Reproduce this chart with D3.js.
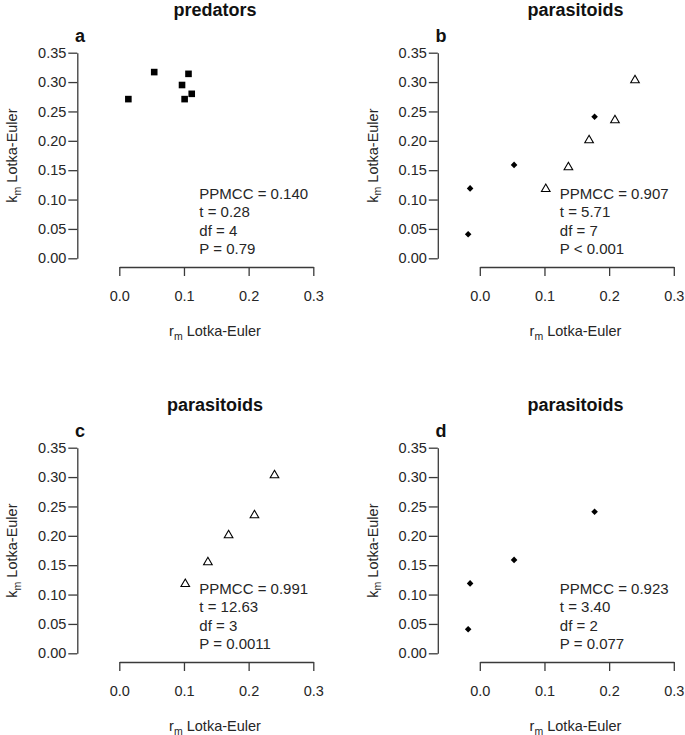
<!DOCTYPE html>
<html><head><meta charset="utf-8">
<script src="https://cdn.jsdelivr.net/npm/d3@7"></script>
<style>body{margin:0;background:#fff}</style>
</head><body><svg id="c" width="685" height="735"></svg>
<script>
// ---- data ----
const predatorR = [0.014, 0.054, 0.107, 0.097, 0.112, 0.101];
const predatorK = [0.271, 0.317, 0.314, 0.295, 0.280, 0.271];
const paraTriR  = [0.102, 0.137, 0.169, 0.209, 0.240];
const paraTriK  = [0.118, 0.155, 0.201, 0.235, 0.303];
const paraDiaR  = [-0.018, -0.015, 0.053, 0.1775];
const paraDiaK  = [0.041, 0.119, 0.159, 0.241];
const xTicks = [0.0, 0.1, 0.2, 0.3];
const yTicks = [0.00, 0.05, 0.10, 0.15, 0.20, 0.25, 0.30, 0.35];
const titles = ["predators", "parasitoids", "parasitoids", "parasitoids"];
const letters = ["a", "b", "c", "d"];
const statsA = ["PPMCC = 0.140", "t = 0.28", "df = 4", "P = 0.79"];
const statsB = ["PPMCC = 0.907", "t = 5.71", "df = 7", "P < 0.001"];
const statsC = ["PPMCC = 0.991", "t = 12.63", "df = 3", "P = 0.0011"];
const statsD = ["PPMCC = 0.923", "t = 3.40", "df = 2", "P = 0.077"];

const square = {r: predatorR, k: predatorK, shape: "square"};
const tri = {r: paraTriR, k: paraTriK, shape: "triangle"};
const dia = {r: paraDiaR, k: paraDiaK, shape: "diamond"};

const panels = [
  {i: 0, dx: 0,     dy: 0,   series: [square],   stats: statsA},
  {i: 1, dx: 360.5, dy: 0,   series: [dia, tri], stats: statsB},
  {i: 2, dx: 0,     dy: 395, series: [tri],      stats: statsC},
  {i: 3, dx: 360.5, dy: 395, series: [dia],      stats: statsD}
];

const FONT = '"Liberation Sans", Arial, Helvetica, sans-serif';
const TXT = "#262626";
const LINE = "#3a3a3a";
const svg = d3.select("#c");
svg.append("rect").attr("width", 685).attr("height", 735).attr("fill", "#fff");

const x = d3.scaleLinear().domain([0, 0.3]).range([119.3, 313.3]);
const y = d3.scaleLinear().domain([0, 0.35]).range([258.3, 52.7]);

const R = 3.2;
const triPath = (cx, cy) => {
  const top = 1.5551 * R, half = 1.3468 * R, bot = 0.7776 * R;
  return `M${cx},${cy - top}L${cx + half},${cy + bot}L${cx - half},${cy + bot}Z`;
};
const diaPath = (cx, cy) => {
  const d = 3.3;
  return `M${cx},${cy - d}L${cx + d},${cy}L${cx},${cy + d}L${cx - d},${cy}Z`;
};

panels.forEach(p => {
  const g = svg.append("g").attr("transform", `translate(${p.dx},${p.dy})`);

  // y axis
  const ya = g.append("g").attr("transform", "translate(77.3,0)")
    .call(d3.axisLeft(y).tickValues(yTicks).tickFormat(d3.format(".2f"))
      .tickSize(9).tickSizeOuter(0).tickPadding(2));
  // x axis
  const xa = g.append("g").attr("transform", "translate(0,267)")
    .call(d3.axisBottom(x).tickValues(xTicks).tickFormat(d3.format(".1f"))
      .tickSize(9).tickSizeOuter(0).tickPadding(15));
  [ya, xa].forEach(a => {
    a.attr("font-family", FONT).attr("font-size", 14.5);
    a.selectAll("path, line").attr("stroke", LINE).attr("stroke-width", 1.3);
    a.selectAll("text").attr("fill", TXT);
  });

  // title
  g.append("text").attr("x", 215).attr("y", 15.5).attr("text-anchor", "middle")
    .attr("font-family", FONT).attr("font-weight", "bold").attr("font-size", 18)
    .attr("fill", "#111").text(titles[p.i]);
  // panel letter
  g.append("text").attr("x", 75).attr("y", 41.5)
    .attr("font-family", FONT).attr("font-weight", "bold").attr("font-size", 18)
    .attr("fill", "#111").text(letters[p.i]);

  // x axis title
  const xt = g.append("text").attr("x", 215).attr("y", 336).attr("text-anchor", "middle")
    .attr("font-family", FONT).attr("font-size", 14.5).attr("fill", TXT);
  xt.append("tspan").text("r");
  xt.append("tspan").attr("font-size", 10.5).attr("dy", 3.5).text("m");
  xt.append("tspan").attr("dy", -3.5).text(" Lotka-Euler");

  // y axis title
  const yt = g.append("text").attr("transform", "translate(17,155.6) rotate(-90)")
    .attr("text-anchor", "middle")
    .attr("font-family", FONT).attr("font-size", 14.5).attr("fill", TXT);
  yt.append("tspan").text("k");
  yt.append("tspan").attr("font-size", 10.5).attr("dy", 3.5).text("m");
  yt.append("tspan").attr("dy", -3.5).text(" Lotka-Euler");

  // stats
  const st = g.append("text").attr("font-family", FONT).attr("font-size", 15).attr("fill", TXT);
  p.stats.forEach((s, j) => {
    st.append("tspan").attr("x", 199.3).attr("y", 199 + j * 18.3).text(s);
  });

  // points
  p.series.forEach(s => {
    const pts = s.r.map((v, j) => [v, s.k[j]]);
    if (s.shape === "square") {
      g.selectAll(null).data(pts).enter().append("rect")
        .attr("x", d => x(d[0]) - 3.3).attr("y", d => y(d[1]) - 3.3)
        .attr("width", 6.6).attr("height", 6.6).attr("fill", "#000");
    } else if (s.shape === "diamond") {
      g.selectAll(null).data(pts).enter().append("path")
        .attr("d", d => diaPath(x(d[0]), y(d[1]))).attr("fill", "#000");
    } else {
      g.selectAll(null).data(pts).enter().append("path")
        .attr("d", d => triPath(x(d[0]), y(d[1])))
        .attr("fill", "none").attr("stroke", "#000").attr("stroke-width", 1.1);
    }
  });
});
</script></body></html>
